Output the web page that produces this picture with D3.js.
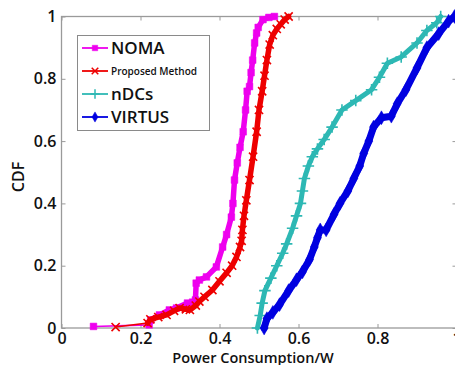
<!DOCTYPE html>
<html>
<head>
<meta charset="utf-8">
<script src="https://cdn.jsdelivr.net/npm/d3@7"></script>
<style>
  body { margin: 0; background: #fff; }
  text { font-family: "Open Sans", sans-serif; fill: #111; }
</style>
</head>
<body>
<div id="chart"></div>
<script>
// données (x = puissance en W, y = CDF)
const seriesNames = ["NOMA", "Proposed Method", "nDCs", "VIRTUS"];
const xTicks = [0, 0.2, 0.4, 0.6, 0.8, 1];
const yTicks = [0, 0.2, 0.4, 0.6, 0.8, 1];

const noma = [[0.081,0.005],[0.222,0.01],[0.226,0.026],[0.248,0.042],[0.273,0.058],[0.291,0.064],
  [0.319,0.08],[0.332,0.083],[0.339,0.09],[0.341,0.144],[0.349,0.154],[0.367,0.164],[0.392,0.196],
  [0.408,0.26],[0.418,0.30],[0.43,0.356],[0.434,0.40],[0.438,0.475],[0.445,0.53],[0.452,0.58],
  [0.46,0.63],[0.466,0.70],[0.47,0.76],[0.476,0.775],[0.48,0.82],[0.484,0.86],[0.489,0.915],
  [0.494,0.947],[0.498,0.965],[0.51,0.99],[0.525,0.997],[0.539,1.0]];

const proposed = [[0.137,0.003],[0.218,0.016],[0.225,0.028],[0.245,0.035],[0.266,0.042],[0.285,0.055],
  [0.299,0.064],[0.315,0.06],[0.325,0.058],[0.34,0.072],[0.349,0.085],[0.362,0.1],[0.382,0.122],
  [0.4,0.15],[0.418,0.177],[0.432,0.2],[0.443,0.228],[0.452,0.26],[0.456,0.28],[0.458,0.315],
  [0.462,0.36],[0.468,0.41],[0.476,0.475],[0.485,0.55],[0.494,0.63],[0.5,0.70],[0.508,0.76],
  [0.514,0.81],[0.52,0.86],[0.527,0.91],[0.535,0.94],[0.545,0.96],[0.555,0.975],[0.565,0.99],[0.575,1.0]];

const ndcs = [[0.496,0.0],[0.503,0.04],[0.508,0.08],[0.515,0.12],[0.53,0.16],[0.545,0.2],[0.56,0.24],
  [0.57,0.27],[0.585,0.32],[0.595,0.36],[0.605,0.4],[0.61,0.44],[0.615,0.48],[0.625,0.52],[0.635,0.55],
  [0.648,0.575],[0.665,0.605],[0.685,0.645],[0.71,0.70],[0.745,0.73],[0.785,0.765],[0.805,0.805],[0.825,0.85],
  [0.86,0.87],[0.9,0.915],[0.925,0.955],[0.95,0.98],[0.96,1.0]];

const virtus = [[0.513,0.0],[0.52,0.03],[0.535,0.05],[0.552,0.075],[0.575,0.12],[0.595,0.155],[0.61,0.18],
  [0.628,0.22],[0.64,0.26],[0.648,0.29],[0.655,0.315],[0.67,0.315],[0.69,0.365],[0.705,0.40],
  [0.725,0.44],[0.74,0.48],[0.755,0.52],[0.765,0.56],[0.778,0.6],[0.79,0.645],[0.81,0.675],
  [0.835,0.68],[0.85,0.72],[0.872,0.765],[0.9,0.835],[0.925,0.9],[0.955,0.945],[0.98,0.985],[0.995,1.0]];

const colors = ["#ee00ee", "#ee0000", "#2db8b4", "#0000e0"];
const symbols = [d3.symbolSquare, d3.symbolTimes || d3.symbolX, d3.symbolPlus, d3.symbolDiamond];
const tails = [2, 2, 0, 0]; // points de début tracés en trait fin
const bandWidths = [5.5, 5.5, 5, 7];

const allData = [noma, proposed, ndcs, virtus];

const svg = d3.select("#chart").append("svg")
  .attr("width", 455).attr("height", 365);

const x = d3.scaleLinear().domain([0, 1]).range([61.5, 456.5]);
const y = d3.scaleLinear().domain([0, 1]).range([328, 16.5]);

// cadre et graduations (style Matlab)
const axisColor = "#9a9a9a";
svg.append("rect")
  .attr("x", x(0)).attr("y", y(1))
  .attr("width", x(1) - x(0)).attr("height", y(0) - y(1))
  .attr("fill", "none").attr("stroke", axisColor).attr("stroke-width", 1.3);

const fmt = d => d === 0 || d === 1 ? String(d) : d3.format(".1f")(d);

const gx = svg.append("g").attr("transform", `translate(0,${y(0)})`)
  .call(d3.axisBottom(x).tickValues(xTicks).tickFormat(fmt).tickSizeInner(-4).tickSizeOuter(0).tickPadding(5));
const gxTop = svg.append("g").attr("transform", `translate(0,${y(1)})`)
  .call(d3.axisTop(x).tickValues(xTicks).tickFormat("").tickSizeInner(-4).tickSizeOuter(0));
const gy = svg.append("g").attr("transform", `translate(${x(0)},0)`)
  .call(d3.axisLeft(y).tickValues(yTicks).tickFormat(fmt).tickSizeInner(-4).tickSizeOuter(0).tickPadding(5));
const gyRight = svg.append("g").attr("transform", `translate(${x(1)},0)`)
  .call(d3.axisRight(y).tickValues(yTicks).tickFormat("").tickSizeInner(-4).tickSizeOuter(0));

[gx, gxTop, gy, gyRight].forEach(g => {
  g.select(".domain").remove();
  g.selectAll("line").attr("stroke", axisColor);
  g.selectAll("text").attr("font-size", 16).attr("font-weight", 600)
    .attr("font-family", "Open Sans, sans-serif").attr("fill", "#111");
});

// titres des axes
svg.append("text")
  .attr("transform", "translate(24,177) rotate(-90)")
  .attr("text-anchor", "middle")
  .attr("font-size", 16).attr("font-weight", 600)
  .text("CDF");
svg.append("text")
  .attr("x", 253).attr("y", 362.5)
  .attr("text-anchor", "middle")
  .attr("font-size", 14.5).attr("font-weight", 600)
  .text("Power Consumption/W");

// courbes
const line = d3.line().x(d => x(d[0])).y(d => y(d[1]));

allData.forEach((data, i) => {
  const g = svg.append("g");
  g.append("path").datum(data)
    .attr("d", line).attr("fill", "none")
    .attr("stroke", colors[i]).attr("stroke-width", 1.6);
  g.append("path").datum(data.slice(tails[i] > 0 ? tails[i] - 1 : 0))
    .attr("d", line).attr("fill", "none")
    .attr("stroke", colors[i]).attr("stroke-width", bandWidths[i])
    .attr("stroke-linejoin", "round").attr("stroke-linecap", "round");
  const isStroke = i === 1 || i === 2;
  g.selectAll("path.mk").data(data).join("path")
    .attr("class", "mk")
    .attr("transform", d => `translate(${x(d[0])},${y(d[1])})`)
    .attr("d", d3.symbol().type(symbols[i]).size(i === 3 ? 55 : 45))
    .attr("fill", isStroke ? "none" : colors[i])
    .attr("stroke", colors[i])
    .attr("stroke-width", isStroke ? 1.6 : 0.5);
});

// légende
const legend = svg.append("g");
legend.append("rect")
  .attr("x", 77.5).attr("y", 35.5).attr("width", 132).attr("height", 95)
  .attr("fill", "#fff").attr("stroke", "#8a8a8a").attr("stroke-width", 1);

const legendRows = [48, 71, 94, 117];
const legendSizes = [17, 10, 17, 17];
seriesNames.forEach((name, i) => {
  const ly = legendRows[i];
  legend.append("line")
    .attr("x1", 82).attr("x2", 108).attr("y1", ly).attr("y2", ly)
    .attr("stroke", colors[i]).attr("stroke-width", 1.8);
  const isStroke = i === 1 || i === 2;
  legend.append("path")
    .attr("transform", `translate(95,${ly})`)
    .attr("d", d3.symbol().type(symbols[i]).size(30))
    .attr("fill", isStroke ? "none" : colors[i])
    .attr("stroke", colors[i]).attr("stroke-width", isStroke ? 1.5 : 0.5);
  legend.append("text")
    .attr("x", 111).attr("y", ly)
    .attr("dy", "0.35em")
    .attr("font-size", legendSizes[i]).attr("font-weight", 600)
    .text(name);
});
</script>
</body>
</html>
